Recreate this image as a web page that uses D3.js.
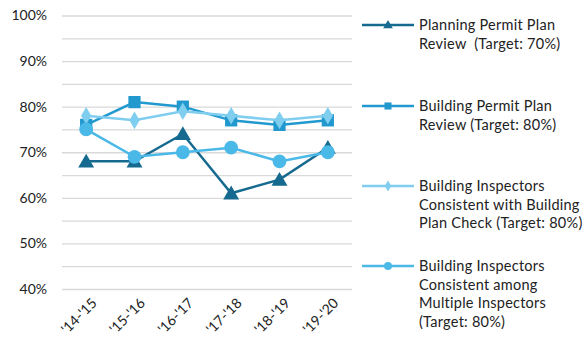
<!DOCTYPE html>
<html><head>
<script src="https://d3js.org/d3.v7.min.js"></script>
<style>
  body { margin: 0; background: #fff; }
  text { font-family: Lato, "Open Sans", sans-serif; fill: #222; }
  .gridlines line { stroke: #d9d9d9; stroke-width: 1.3; }
  .gridlines .domain { stroke: none; }
  .legend text { white-space: pre; }
</style>
</head>
<body>
<svg id="chart" width="582" height="341"></svg>
<script>
  // data
  const years = ["'14-'15", "'15-'16", "'16-'17", "'17-'18", "'18-'19", "'19-'20"];
  const planning = [68, 68, 74, 61, 64, 71];
  const buildingPermit = [76, 81, 80, 77, 76, 77];
  const inspectorsPlan = [78, 77, 79, 78, 77, 78];
  const inspectorsMulti = [75, 69, 70, 71, 68, 70];
  const yTicks = [40, 50, 60, 70, 80, 90, 100];

  const series = [
    {name: ["Planning Permit Plan", "Review  (Target: 70%)"], values: planning, color: "#166a8f", marker: d3.symbolTriangle, size: 110, lsize: 40},
    {name: ["Building Permit Plan", "Review (Target: 80%)"], values: buildingPermit, color: "#2199cf", marker: d3.symbolSquare, size: 150, lsize: 50},
    {name: ["Building Inspectors", "Consistent with Building", "Plan Check (Target: 80%)"], values: inspectorsPlan, color: "#7fcdef", marker: d3.symbolDiamond, size: 90, lsize: 35},
    {name: ["Building Inspectors", "Consistent among", "Multiple Inspectors", "(Target: 80%)"], values: inspectorsMulti, color: "#4bb9e8", marker: d3.symbolCircle, size: 150, lsize: 50}
  ];

  const svg = d3.select("svg#chart");
  const margin = {top: 15.5, left: 62};
  const plotWidth = 290, plotHeight = 273.5;

  const x = d3.scalePoint().domain(years).range([0, plotWidth]).padding(0.5);
  const y = d3.scaleLinear().domain([40, 100]).range([plotHeight, 0]);

  const chart = svg.append("g").attr("transform", "translate(" + margin.left + "," + margin.top + ")");

  // gridlines every 5%
  chart.append("g").attr("class", "gridlines")
    .call(d3.axisLeft(y).tickValues(d3.range(40, 101, 5)).tickSize(-plotWidth).tickFormat(""));

  // y labels
  chart.append("g")
    .call(d3.axisLeft(y).tickValues(yTicks).tickSize(0).tickPadding(15).tickFormat(d => d + "%"))
    .call(g => g.select(".domain").remove())
    .selectAll("text").style("font-size", "14px").attr("fill", "#222");

  // x labels
  chart.append("g")
    .attr("transform", "translate(0," + plotHeight + ")")
    .call(d3.axisBottom(x).tickSize(0).tickPadding(0))
    .call(g => g.select(".domain").remove())
    .selectAll("text")
    .style("font-size", "14px").attr("fill", "#222")
    .attr("text-anchor", "end")
    .attr("dy", 0)
    .attr("transform", "translate(11,15) rotate(-45)");

  const line = d3.line().x((d, i) => x(years[i])).y(d => y(d));

  series.forEach(s => {
    chart.append("path").datum(s.values)
      .attr("d", line).attr("fill", "none")
      .attr("stroke", s.color).attr("stroke-width", 2.5);
    chart.selectAll(null).data(s.values).enter().append("path")
      .attr("d", d3.symbol(s.marker, s.size))
      .attr("fill", s.color)
      .attr("transform", (d, i) => "translate(" + x(years[i]) + "," + (y(d) + (s.marker === d3.symbolTriangle ? 1.5 : 0)) + ")");
  });

  // legend
  const legendY = [25, 106, 186, 266];
  series.forEach((s, k) => {
    const g = svg.append("g").attr("class", "legend").attr("transform", "translate(362," + legendY[k] + ")");
    g.append("line").attr("x1", 0).attr("x2", 52).attr("stroke", s.color).attr("stroke-width", 2.5);
    g.append("path").attr("d", d3.symbol(s.marker, s.lsize)).attr("fill", s.color)
      .attr("transform", "translate(26," + (s.marker === d3.symbolTriangle ? 0.5 : 0) + ")");
    s.name.forEach((t, j) => {
      g.append("text").attr("x", 57).attr("y", j * 18.7).attr("dy", "0.35em")
        .style("font-size", "14.5px").style("letter-spacing", "0.25px").text(t);
    });
  });
</script>
</body></html>
